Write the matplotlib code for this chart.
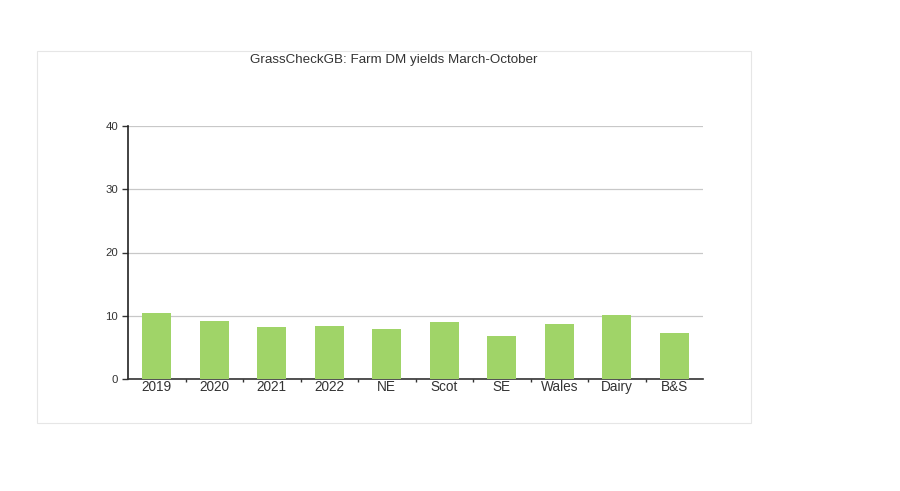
import matplotlib
matplotlib.use("Agg")
from matplotlib import pyplot as plt
from matplotlib.patches import Rectangle

categories = ["2019", "2020", "2021", "2022", "NE", "Scot", "SE", "Wales", "Dairy", "B&S"]
yields = [10.5, 9.2, 8.2, 8.4, 7.85, 9.05, 6.8, 8.7, 10.1, 7.3]
y_ticks = [0, 10, 20, 30, 40]

plt.rcParams['font.family'] = ['Liberation Sans', 'DejaVu Sans']

fig = plt.figure(figsize=(9, 4.91), dpi=100)
fig.patch.set_facecolor('white')

# light frame round the whole chart
fig.patches.append(Rectangle((37/900, 1-423/491), (751-37)/900, (423-51)/491,
                             transform=fig.transFigure, fill=False,
                             edgecolor='#e6e6e6', linewidth=0.8))

ax = fig.add_axes([128/900, 1-379/491, 575/900, 253/491])
x = range(len(categories))
ax.bar(x, yields, width=0.5, color='#a0d468', zorder=3)

ax.set_xlim(-0.5, len(categories) - 0.5)
ax.set_ylim(0, 40)
ax.set_yticks(y_ticks)
ax.yaxis.grid(True, color='#c8c8c8', linewidth=0.9, zorder=0)
ax.set_xticks(list(x))
ax.set_xticklabels(categories, fontsize=9.8, color='#333333')
ax.tick_params(axis='x', length=0, pad=1)
ax.set_xticks([i + 0.5 for i in range(len(categories) - 1)], minor=True)
ax.tick_params(axis='x', which='minor', length=2, width=1, color='#333333', direction='out')
ax.tick_params(axis='y', length=4, width=1, color='#333333', labelsize=8.2,
               labelcolor='#333333', pad=3)

for side in ['top', 'right']:
    ax.spines[side].set_visible(False)
ax.spines['left'].set_color('#222222')
ax.spines['bottom'].set_color('#333333')
ax.spines['left'].set_linewidth(1.2)
ax.spines['bottom'].set_linewidth(1.2)

fig.text(394/900, 1-60/491, "GrassCheckGB: Farm DM yields March-October",
         ha='center', va='center', fontsize=9.6, color='#333333')

fig.savefig('out.png', dpi=100)
